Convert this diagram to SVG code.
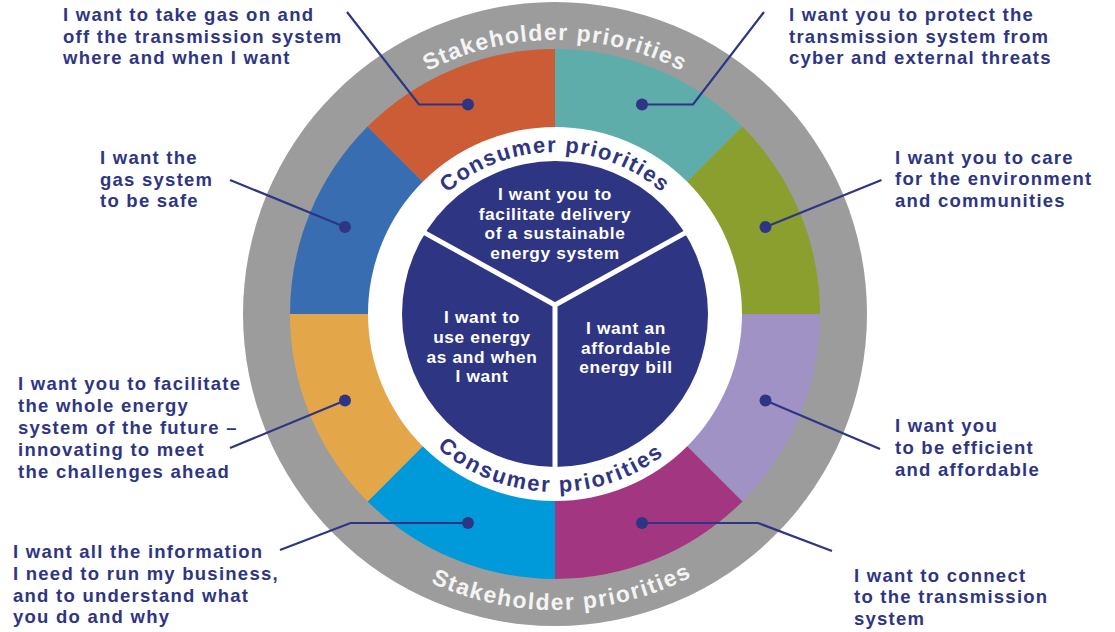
<svg xmlns="http://www.w3.org/2000/svg" width="1115" height="632" viewBox="0 0 1115 632">
<style>
.lbl{font-family:"Liberation Sans",Arial,sans-serif;font-weight:700;font-size:18.5px;fill:#2E3584;letter-spacing:1.25px}
.inn{font-family:"Liberation Sans",Arial,sans-serif;font-weight:700;font-size:17.3px;fill:#FFFFFF;text-anchor:middle;letter-spacing:0.65px}
.arcC{font-family:"Liberation Sans",Arial,sans-serif;font-weight:700;font-size:22px;fill:#2E3584;letter-spacing:1.4px}
.arcB{letter-spacing:2px}
.arcS{font-family:"Liberation Sans",Arial,sans-serif;font-weight:700;font-size:23px;fill:#F4F4F4;letter-spacing:1.3px}
.arcSB{letter-spacing:1.6px}
.con{fill:none;stroke:#2E3584;stroke-width:2.2;stroke-linejoin:miter}
.dot{fill:#2E3584}
</style>
<defs>
<path id="pTopC" d="M393,314 A162,162 0 0 1 717,314"/>
<path id="pBotC" d="M377,314 A178,178 0 0 0 733,314"/>
<path id="pTopS" d="M281,314 A274,274 0 0 1 829,314"/>
<path id="pBotS" d="M259,314 A296,296 0 0 0 851,314"/>
</defs>
<rect width="1115" height="632" fill="#FFFFFF"/>
<g id="wheel">
<circle cx="555" cy="314" r="312" fill="#9C9C9C"/>
<path d="M555,314 L555,49 A265,265 0 0 1 742.38,126.62 Z" fill="#5EADAA"/>
<path d="M555,314 L742.38,126.62 A265,265 0 0 1 820,314 Z" fill="#8A9F2E"/>
<path d="M555,314 L820,314 A265,265 0 0 1 742.38,501.38 Z" fill="#A092C4"/>
<path d="M555,314 L742.38,501.38 A265,265 0 0 1 555,579 Z" fill="#A23681"/>
<path d="M555,314 L555,579 A265,265 0 0 1 367.62,501.38 Z" fill="#009ADA"/>
<path d="M555,314 L367.62,501.38 A265,265 0 0 1 290,314 Z" fill="#E3A74A"/>
<path d="M555,314 L290,314 A265,265 0 0 1 367.62,126.62 Z" fill="#386DB2"/>
<path d="M555,314 L367.62,126.62 A265,265 0 0 1 555,49 Z" fill="#CC5C36"/>
<circle cx="555" cy="314" r="187" fill="#FFFFFF"/>
<circle cx="555" cy="314" r="153" fill="#2E3583"/>
<path d="M555,305 L555,484 M555,305 L406.3,222.6 M555,305 L703.7,222.6" fill="none" stroke="#FFFFFF" stroke-width="5"/>
</g>
<g id="ring-labels">
<text class="arcC"><textPath href="#pTopC" startOffset="50%" text-anchor="middle">Consumer priorities</textPath></text>
<text class="arcC arcB"><textPath href="#pBotC" startOffset="49.1%" text-anchor="middle">Consumer priorities</textPath></text>
<text class="arcS"><textPath href="#pTopS" startOffset="50%" text-anchor="middle">Stakeholder priorities</textPath></text>
<text class="arcS arcSB"><textPath href="#pBotS" startOffset="50.8%" text-anchor="middle">Stakeholder priorities</textPath></text>
</g>
<g id="core-top"><text class="inn"><tspan x="555" y="200">I want you to</tspan><tspan x="555" y="219.6">facilitate delivery</tspan><tspan x="555" y="239.2">of a sustainable</tspan><tspan x="555" y="258.8">energy system</tspan></text></g>
<g id="core-left"><text class="inn"><tspan x="482" y="323.3">I want to</tspan><tspan x="482" y="343">use energy</tspan><tspan x="482" y="362.5">as and when</tspan><tspan x="482" y="382">I want</tspan></text></g>
<g id="core-right"><text class="inn"><tspan x="626" y="334">I want an</tspan><tspan x="626" y="353.5">affordable</tspan><tspan x="626" y="373">energy bill</tspan></text></g>
<g id="connectors">
<polyline class="con" points="468,104.5 419,104.5 347,12"/>
<polyline class="con" points="642,104.5 693,104.5 764,12"/>
<polyline class="con" points="345,227 230,180"/>
<polyline class="con" points="765.5,227 881.5,180"/>
<polyline class="con" points="345,400.5 230,448"/>
<polyline class="con" points="765.5,400.5 880,449"/>
<polyline class="con" points="468,523 350.5,523 280,550"/>
<polyline class="con" points="642,523 758,523 832,551"/>
<circle class="dot" cx="468" cy="104.5" r="6"/>
<circle class="dot" cx="642" cy="104.5" r="6"/>
<circle class="dot" cx="345" cy="227" r="6"/>
<circle class="dot" cx="765.5" cy="227" r="6"/>
<circle class="dot" cx="345" cy="400.5" r="6"/>
<circle class="dot" cx="765.5" cy="400.5" r="6"/>
<circle class="dot" cx="468" cy="523" r="6"/>
<circle class="dot" cx="642" cy="523" r="6"/>
</g>
<g id="label-gas-on-off"><text class="lbl"><tspan x="63" y="21">I want to take gas on and</tspan><tspan x="63" y="42.5">off the transmission system</tspan><tspan x="63" y="64">where and when I want</tspan></text></g>
<g id="label-safe"><text class="lbl"><tspan x="100" y="163.5">I want the</tspan><tspan x="100" y="185.5">gas system</tspan><tspan x="100" y="207">to be safe</tspan></text></g>
<g id="label-protect"><text class="lbl"><tspan x="789" y="21">I want you to protect the</tspan><tspan x="789" y="42.5">transmission system from</tspan><tspan x="789" y="64">cyber and external threats</tspan></text></g>
<g id="label-environment"><text class="lbl"><tspan x="895" y="163.5">I want you to care</tspan><tspan x="895" y="185">for the environment</tspan><tspan x="895" y="206.7">and communities</tspan></text></g>
<g id="label-future"><text class="lbl"><tspan x="18" y="389.5">I want you to facilitate</tspan><tspan x="18" y="411.5">the whole energy</tspan><tspan x="18" y="433.5">system of the future –</tspan><tspan x="18" y="455.5">innovating to meet</tspan><tspan x="18" y="477.5">the challenges ahead</tspan></text></g>
<g id="label-information"><text class="lbl"><tspan x="13" y="558">I want all the information</tspan><tspan x="13" y="580">I need to run my business,</tspan><tspan x="13" y="601.5">and to understand what</tspan><tspan x="13" y="623">you do and why</tspan></text></g>
<g id="label-efficient"><text class="lbl"><tspan x="895" y="432">I want you</tspan><tspan x="895" y="454">to be efficient</tspan><tspan x="895" y="476">and affordable</tspan></text></g>
<g id="label-connect"><text class="lbl"><tspan x="854" y="581.5">I want to connect</tspan><tspan x="854" y="603">to the transmission</tspan><tspan x="854" y="624.5">system</tspan></text></g>
</svg>
